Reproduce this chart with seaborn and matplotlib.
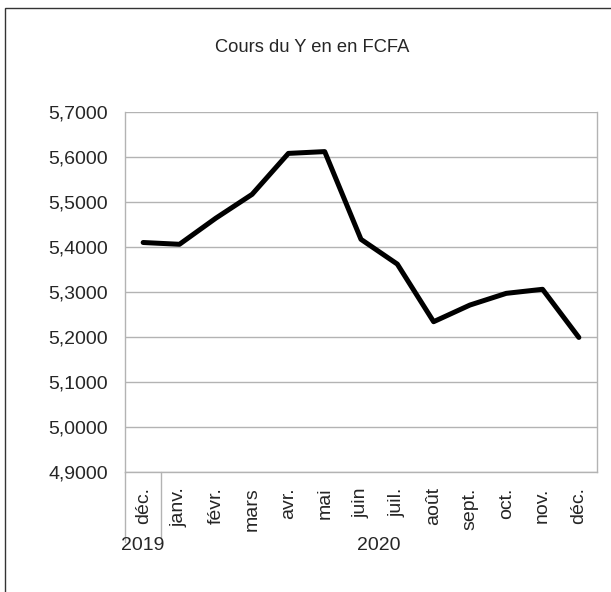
import matplotlib
matplotlib.use("Agg")
import matplotlib.pyplot as plt
import matplotlib.ticker as mticker
from matplotlib.lines import Line2D
from matplotlib.patches import Rectangle
import seaborn as sns
import pandas as pd

# monthly rate of the yen in FCFA
months = ["déc.", "janv.", "févr.", "mars", "avr.", "mai", "juin",
          "juil.", "août", "sept.", "oct.", "nov.", "déc."]
years = ["2019", "2020"]
rates = [5.410, 5.406, 5.464, 5.517, 5.608, 5.612, 5.417,
         5.362, 5.234, 5.271, 5.297, 5.306, 5.199]

df = pd.DataFrame({"pos": range(len(months)), "rate": rates})

sns.set_style("white")
plt.rcParams["font.family"] = ["Liberation Sans", "DejaVu Sans"]

fig = plt.figure(figsize=(6.11, 5.92), dpi=100)
ax = fig.add_axes([125 / 611, 120 / 592, 472 / 611, 360 / 592])

sns.lineplot(data=df, x="pos", y="rate", color="black", linewidth=3.6, ax=ax)

grey = "#b3b3b3"
fs = 14
ax.set_xlim(-0.5, len(months) - 0.5)
ax.set_ylim(4.9, 5.7)
ax.yaxis.set_major_locator(mticker.MultipleLocator(0.1))
ax.yaxis.set_major_formatter(
    mticker.FuncFormatter(lambda v, p: f"{v:.4f}".replace(".", ",")))
ax.grid(axis="y", color=grey, linewidth=1)
ax.set_axisbelow(True)

ax.set_xticks(range(len(months)))
ax.set_xticklabels(months, rotation=90, va="top")
ax.set_xticks([i - 0.5 for i in range(len(months) + 1)], minor=True)
ax.tick_params(axis="x", which="major", length=0, pad=11, labelsize=fs)
ax.tick_params(axis="x", which="minor", length=37, width=1, color=grey,
               direction="out")
ax.tick_params(axis="y", length=7, width=1, color=grey, labelsize=fs, pad=5)
ax.set_xlabel("")
ax.set_ylabel("")

for s in ax.spines.values():
    s.set_color(grey)
    s.set_linewidth(1)
ax.spines["top"].set_visible(False)

# year separators and labels
trans = ax.get_xaxis_transform()
for xb, end in [(-0.5, -70 / 360), (0.5, -65 / 360)]:
    ax.add_line(Line2D([xb, xb], [0, end], transform=trans,
                       color=grey, linewidth=1, clip_on=False))
ax.text(0, -74 / 360, years[0], transform=trans, ha="center", va="center",
        fontsize=fs)
ax.text((len(months) - 1 + 1) / 2, -74 / 360, years[1], transform=trans,
        ha="center", va="center", fontsize=fs)

fig.text(312 / 611, 1 - 48 / 592, "Cours du Y en en FCFA", ha="center",
         va="center", fontsize=13.2)

fig.patches.append(Rectangle((5 / 611, -0.1), 1.2, 1 - 8 / 592 + 0.1,
                             transform=fig.transFigure, fill=False,
                             edgecolor="#333333", linewidth=1))

fig.savefig("out.png", dpi=100)
